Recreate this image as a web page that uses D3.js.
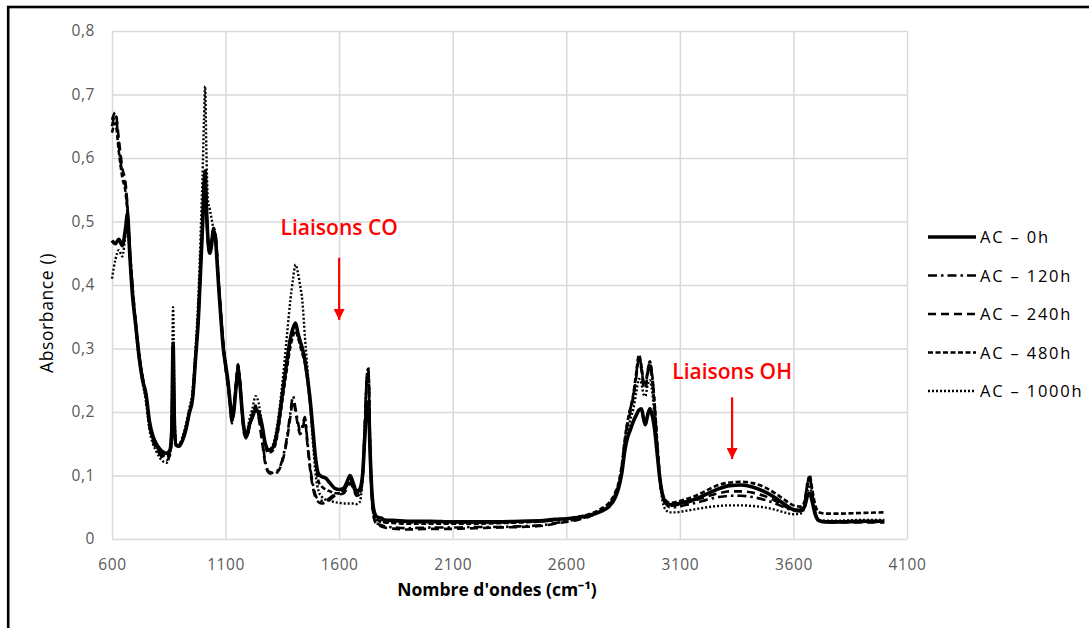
<!DOCTYPE html>
<html><head><meta charset="utf-8">
<script src="https://cdn.jsdelivr.net/npm/d3@7"></script>
<style>
html,body{margin:0;padding:0;background:#fff;}
svg{display:block;}
</style>
</head><body>
<svg id="chart" width="1089" height="628"></svg>
<script>
// ---- data ----
const wavenumbers = [
600,615,630,645,660,668,678,690,705,720,735,750,765,780,795,810,825,840,
855,863,869,875,882,895,910,925,940,955,968,980,992,
1000,1005,1010,1015,1022,1030,1038,1046,1054,1062,1070,1080,1090,1100,
1110,1120,1128,1136,1145,1155,1163,1172,1182,1193,1205,1218,1232,1245,
1260,1275,1290,1310,1330,1350,1370,1385,1397,1408,1418,1428,1438,1449,1460,1472,1485,1497,
1510,1525,1540,1560,1580,1600,1620,1635,1648,1662,1676,1690,1703,1713,1722,1729,1736,1745,1757,1770,1785,
1800,1850,1900,2000,2100,2200,2300,2400,2500,2550,2600,2650,2700,2750,2790,2815,
2830,2845,2858,2870,2882,2895,2908,2920,2931,2940,2948,2958,2968,2976,2988,3000,3012,3025,3040,3055,
3080,3120,3170,3220,3270,3320,3370,3420,3470,3520,3560,3600,3630,3650,3662,3672,3682,3695,3712,3740,3800,3900,4000
];
const ac0h = [
0.470,0.465,0.472,0.462,0.490,0.512,0.450,0.385,0.335,0.285,0.250,0.228,0.185,0.162,0.150,0.142,0.137,0.135,
0.140,0.170,0.308,0.180,0.148,0.146,0.155,0.172,0.198,0.222,0.285,0.345,0.440,
0.505,0.555,0.580,0.530,0.475,0.450,0.462,0.485,0.478,0.440,0.395,0.345,0.300,0.275,
0.250,0.215,0.188,0.200,0.235,0.262,0.245,0.205,0.172,0.163,0.180,0.192,0.203,0.200,
0.180,0.150,0.140,0.145,0.175,0.228,0.280,0.315,0.332,0.340,0.325,0.312,0.300,0.282,0.255,0.220,0.170,0.125,
0.102,0.098,0.096,0.088,0.080,0.078,0.080,0.090,0.100,0.088,0.075,0.078,0.100,0.160,0.210,0.216,0.140,0.070,0.040,0.034,0.033,
0.030,0.029,0.028,0.028,0.027,0.027,0.027,0.028,0.029,0.031,0.032,0.034,0.037,0.043,0.052,0.065,
0.080,0.105,0.140,0.160,0.172,0.185,0.195,0.203,0.205,0.190,0.180,0.195,0.205,0.198,0.175,0.135,0.095,0.068,0.057,0.054,
0.055,0.058,0.063,0.071,0.079,0.084,0.085,0.082,0.075,0.065,0.055,0.046,0.044,0.052,0.068,0.072,0.060,0.040,0.029,0.027,0.027,0.028,0.028
];
const ac120h = [
0.650,0.668,0.620,0.575,0.555,0.520,0.455,0.400,0.340,0.290,0.255,0.225,0.180,0.158,0.145,0.138,0.130,0.128,
0.135,0.165,0.305,0.175,0.150,0.150,0.158,0.175,0.200,0.225,0.290,0.350,0.445,
0.505,0.552,0.575,0.525,0.470,0.460,0.470,0.488,0.482,0.450,0.400,0.350,0.305,0.270,
0.245,0.212,0.185,0.205,0.240,0.275,0.250,0.205,0.168,0.160,0.178,0.195,0.210,0.195,
0.160,0.122,0.106,0.104,0.108,0.125,0.160,0.198,0.225,0.205,0.185,0.170,0.178,0.192,0.155,0.115,0.085,0.068,
0.062,0.060,0.060,0.065,0.070,0.072,0.075,0.085,0.092,0.082,0.070,0.072,0.100,0.180,0.255,0.268,0.150,0.060,0.030,0.024,0.022,
0.020,0.018,0.017,0.018,0.018,0.019,0.019,0.020,0.022,0.025,0.028,0.031,0.036,0.045,0.055,0.070,
0.085,0.115,0.155,0.185,0.205,0.225,0.260,0.288,0.270,0.245,0.240,0.262,0.278,0.262,0.215,0.150,0.095,0.065,0.055,0.050,
0.050,0.053,0.057,0.062,0.066,0.068,0.068,0.066,0.062,0.056,0.050,0.045,0.046,0.060,0.090,0.098,0.075,0.045,0.030,0.027,0.027,0.027,0.027
];
const ac240h = [
0.660,0.672,0.630,0.585,0.560,0.525,0.460,0.398,0.338,0.288,0.252,0.222,0.178,0.155,0.142,0.134,0.126,0.124,
0.132,0.162,0.300,0.172,0.148,0.148,0.156,0.172,0.198,0.222,0.288,0.350,0.448,
0.510,0.560,0.578,0.528,0.468,0.455,0.468,0.490,0.485,0.452,0.402,0.352,0.305,0.268,
0.242,0.210,0.182,0.202,0.238,0.272,0.248,0.202,0.165,0.158,0.176,0.193,0.208,0.192,
0.155,0.118,0.104,0.102,0.106,0.122,0.155,0.192,0.218,0.200,0.180,0.165,0.172,0.188,0.150,0.110,0.080,0.064,
0.058,0.056,0.058,0.062,0.068,0.070,0.072,0.080,0.088,0.080,0.068,0.070,0.095,0.170,0.250,0.262,0.145,0.058,0.028,0.022,0.020,
0.018,0.016,0.015,0.016,0.016,0.017,0.018,0.019,0.021,0.024,0.027,0.030,0.035,0.044,0.054,0.068,
0.083,0.112,0.152,0.180,0.200,0.222,0.255,0.282,0.266,0.240,0.236,0.258,0.274,0.258,0.210,0.148,0.094,0.064,0.055,0.052,
0.053,0.056,0.061,0.067,0.072,0.075,0.075,0.073,0.068,0.060,0.052,0.046,0.046,0.058,0.085,0.095,0.072,0.044,0.029,0.026,0.026,0.026,0.026
];
const ac480h = [
0.640,0.655,0.610,0.570,0.545,0.515,0.452,0.392,0.336,0.286,0.250,0.224,0.180,0.158,0.146,0.138,0.132,0.130,
0.136,0.166,0.305,0.176,0.148,0.147,0.156,0.174,0.200,0.224,0.288,0.348,0.444,
0.508,0.556,0.576,0.528,0.472,0.452,0.466,0.486,0.480,0.445,0.398,0.348,0.302,0.272,
0.248,0.214,0.187,0.202,0.238,0.268,0.248,0.205,0.170,0.162,0.180,0.195,0.208,0.198,
0.175,0.145,0.136,0.140,0.168,0.218,0.268,0.302,0.320,0.328,0.318,0.305,0.292,0.278,0.252,0.215,0.165,0.118,
0.090,0.082,0.078,0.075,0.072,0.072,0.076,0.086,0.095,0.085,0.072,0.074,0.098,0.170,0.255,0.265,0.148,0.065,0.036,0.030,0.028,
0.026,0.025,0.024,0.024,0.024,0.024,0.025,0.026,0.028,0.030,0.032,0.035,0.039,0.047,0.058,0.073,
0.088,0.118,0.158,0.186,0.206,0.228,0.262,0.290,0.272,0.248,0.242,0.265,0.280,0.265,0.218,0.155,0.100,0.070,0.060,0.057,
0.058,0.062,0.068,0.077,0.085,0.089,0.090,0.088,0.082,0.072,0.062,0.053,0.051,0.060,0.088,0.100,0.080,0.055,0.042,0.040,0.040,0.041,0.042
];
const ac1000h = [
0.410,0.440,0.455,0.445,0.480,0.500,0.455,0.395,0.330,0.280,0.245,0.215,0.172,0.150,0.138,0.128,0.122,0.120,
0.135,0.200,0.365,0.200,0.150,0.148,0.160,0.180,0.205,0.235,0.300,0.380,0.500,
0.590,0.660,0.713,0.620,0.535,0.520,0.505,0.490,0.480,0.445,0.400,0.350,0.305,0.275,
0.250,0.215,0.190,0.205,0.240,0.275,0.250,0.208,0.175,0.168,0.188,0.205,0.225,0.215,
0.180,0.150,0.140,0.150,0.185,0.245,0.320,0.375,0.410,0.432,0.420,0.400,0.375,0.320,0.270,0.215,0.150,0.100,
0.075,0.066,0.062,0.060,0.058,0.057,0.056,0.056,0.056,0.056,0.055,0.058,0.095,0.175,0.258,0.270,0.150,0.062,0.034,0.028,0.027,
0.027,0.027,0.026,0.026,0.026,0.026,0.026,0.027,0.028,0.030,0.031,0.033,0.037,0.044,0.053,0.066,
0.080,0.108,0.145,0.170,0.188,0.205,0.230,0.252,0.245,0.228,0.225,0.242,0.250,0.238,0.195,0.140,0.090,0.058,0.045,0.042,
0.042,0.044,0.047,0.050,0.052,0.053,0.053,0.052,0.050,0.046,0.042,0.039,0.040,0.050,0.075,0.085,0.065,0.040,0.030,0.029,0.029,0.030,0.030
];
const seriesNames = ["AC \u2013 0h","AC \u2013 120h","AC \u2013 240h","AC \u2013 480h","AC \u2013 1000h"];
const seriesValues = [ac0h, ac120h, ac240h, ac480h, ac1000h];
const xTicks = [600,1100,1600,2100,2600,3100,3600,4100];
const yTicks = [0,0.1,0.2,0.3,0.4,0.5,0.6,0.7,0.8];
const yTickLabels = ["0","0,1","0,2","0,3","0,4","0,5","0,6","0,7","0,8"];
const annotations = [
  {label:"Liaisons CO", wn:1600, textY:0.478, from:0.443, to:0.345},
  {label:"Liaisons OH", wn:3330, textY:0.252, from:0.223, to:0.126}
];

// ---- styles ----
const styles = [
  {w:3.6, dash:null},
  {w:2.6, dash:"9,4,2.5,4"},
  {w:2.6, dash:"8,5"},
  {w:2.6, dash:"5,2.5"},
  {w:2.4, dash:"2,2"}
];

const svg = d3.select("#chart");
const L=112, R=907, T=31, B=539;
const x = d3.scaleLinear().domain([600,4100]).range([L,R]);
const y = d3.scaleLinear().domain([0,0.8]).range([B,T]);

// outer frame
svg.append("rect").attr("x",8.2).attr("y",7).attr("width",1200).attr("height",700)
  .attr("fill","none").attr("stroke","#000").attr("stroke-width",2.6);

// gridlines
const gx = svg.append("g").attr("transform",`translate(0,${B})`)
  .call(d3.axisBottom(x).tickValues(xTicks).tickSize(-(B-T)).tickFormat(""));
gx.select(".domain").remove();
gx.selectAll("line").attr("stroke","#d9d9d9").attr("stroke-width",1.5);
const gy = svg.append("g").attr("transform",`translate(${L},0)`)
  .call(d3.axisLeft(y).tickValues(yTicks).tickSize(-(R-L)).tickFormat(""));
gy.select(".domain").remove();
gy.selectAll("line").attr("stroke","#d9d9d9").attr("stroke-width",1.5);

// tick labels
const xa = svg.append("g").attr("transform",`translate(0,${B})`)
  .call(d3.axisBottom(x).tickValues(xTicks).tickSize(0).tickPadding(20).tickFormat(d=>String(d)));
xa.select(".domain").remove();
xa.selectAll("text").attr("font-family","Open Sans").attr("font-size",15.5).attr("fill","#595959").attr("letter-spacing","0.6px");
const ya = svg.append("g").attr("transform",`translate(${L},0)`)
  .call(d3.axisLeft(y).tickValues(yTicks).tickSize(0).tickPadding(17).tickFormat((d,i)=>yTickLabels[i]));
ya.select(".domain").remove();
ya.selectAll("text").attr("font-family","Open Sans").attr("font-size",15.5).attr("fill","#595959").attr("letter-spacing","0.6px");

// axis titles
svg.append("text").attr("x",497).attr("y",596).attr("text-anchor","middle")
  .attr("font-family","Open Sans").attr("font-weight","bold").attr("font-size",17.5).attr("fill","#000")
  .text("Nombre d'ondes (cm\u207B\u00B9)");
svg.append("text").attr("transform","translate(53,313) rotate(-90)").attr("text-anchor","middle")
  .attr("font-family","Open Sans").attr("font-size",17.5).attr("fill","#000").attr("letter-spacing","0.6px")
  .text("Absorbance ()");

// series lines
const line = d3.line().x(d=>x(d[0])).y(d=>y(d[1])).curve(d3.curveMonotoneX);
seriesValues.forEach((vals,i)=>{
  const pts = wavenumbers.map((w,j)=>[w, vals[j]]);
  const p = svg.append("path").datum(pts).attr("d",line)
    .attr("fill","none").attr("stroke","#000").attr("stroke-width",styles[i].w)
    .attr("stroke-linejoin","round");
  if(styles[i].dash) p.attr("stroke-dasharray",styles[i].dash);
});

// annotations
const defs = svg.append("defs");
defs.append("marker").attr("id","arr").attr("viewBox","0 0 10 10").attr("refX",10).attr("refY",5)
  .attr("markerWidth",5).attr("markerHeight",5).attr("markerUnits","strokeWidth").attr("orient","auto")
  .append("path").attr("d","M0,0 L10,5 L0,10 z").attr("fill","#ff0000");
annotations.forEach(a=>{
  svg.append("text").attr("x",x(a.wn)).attr("y",y(a.textY)).attr("text-anchor","middle")
    .attr("font-family","Open Sans").attr("font-size",21).attr("font-weight",600).attr("fill","#ff0000").text(a.label);
  svg.append("line").attr("x1",x(a.wn)).attr("x2",x(a.wn)).attr("y1",y(a.from)).attr("y2",y(a.to))
    .attr("stroke","#ff0000").attr("stroke-width",2.2).attr("marker-end","url(#arr)");
});

// legend
const lg = svg.append("g");
seriesNames.forEach((n,i)=>{
  const yy = 237 + i*38.5;
  const l = lg.append("line").attr("x1",928).attr("x2",976).attr("y1",yy).attr("y2",yy)
    .attr("stroke","#000").attr("stroke-width",styles[i].w);
  if(styles[i].dash) l.attr("stroke-dasharray",styles[i].dash);
  lg.append("text").attr("x",980).attr("y",yy+6).attr("font-family","Open Sans").attr("font-size",16.5)
    .attr("letter-spacing","1.8px").attr("fill","#000").text(n);
});
</script>
</body></html>
